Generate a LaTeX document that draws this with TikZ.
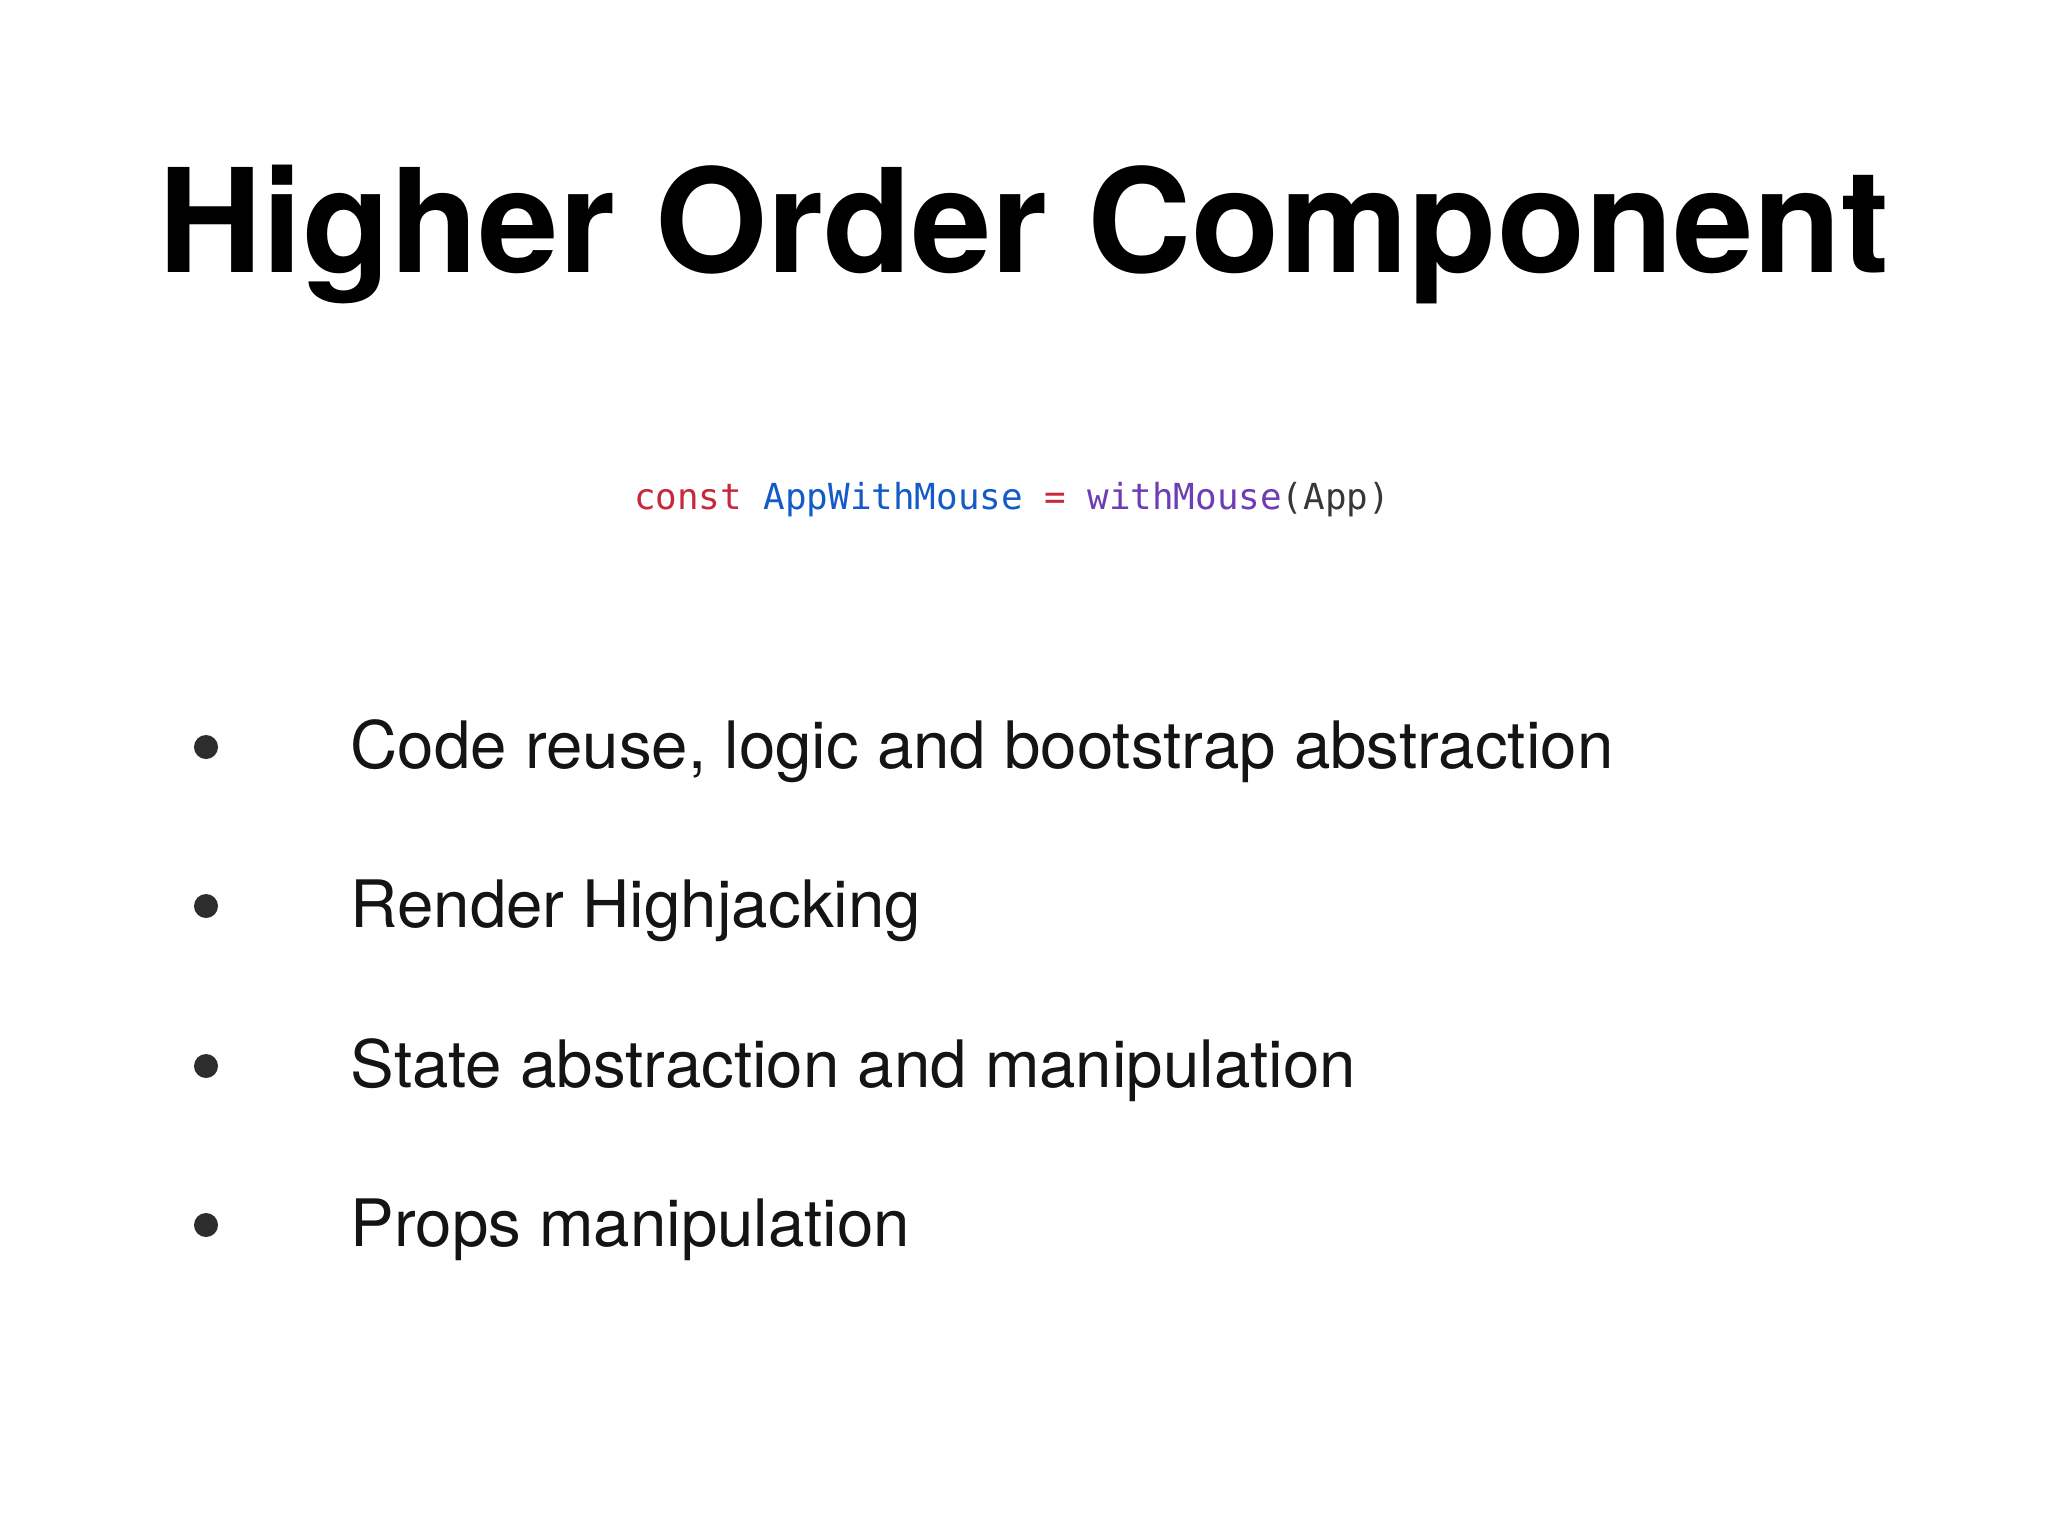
\documentclass[tikz,border=0pt]{standalone}
\usepackage{fontspec}
\setmainfont{TeX Gyre Heros}
\newfontfamily\codefont{DejaVu Sans Mono}
\definecolor{kwred}{RGB}{200,40,60}
\definecolor{idblue}{RGB}{20,90,200}
\definecolor{fnpurple}{RGB}{110,60,180}
\definecolor{txt}{RGB}{20,20,20}
\definecolor{bul}{RGB}{45,45,45}
\begin{document}
\begin{tikzpicture}[x=0.01cm,y=-0.01cm,
  item/.style={anchor=base west,inner sep=0,font=\fontsize{18.6}{22}\selectfont,text=txt},
  dot/.style={circle,fill=bul,minimum size=0.24cm,inner sep=0}]
\useasboundingbox (0,0) rectangle (2048,1536);
\node[anchor=base,inner sep=0,font=\bfseries\fontsize{41}{48}\selectfont] (title) at (1024,272) {Higher Order Component};
\node[anchor=base,inner sep=0,font=\codefont\fontsize{10.2}{12}\selectfont] (code) at (1012,509)
 {\textcolor{kwred}{const} \textcolor{idblue}{AppWithMouse} \textcolor{kwred}{=} \textcolor{fnpurple}{withMouse}\textcolor{txt!85}{(App)}};
\foreach \y/\t [count=\i] in {747/{Code reuse, logic and bootstrap abstraction},906/{Render Highjacking},1066/{State abstraction and manipulation},1225/{Props manipulation}}{
  \node[dot] (b\i) at (206,\y) {};
  \node[item] (t\i) at (350,\y+21) {\t};
}
\end{tikzpicture}
\end{document}
